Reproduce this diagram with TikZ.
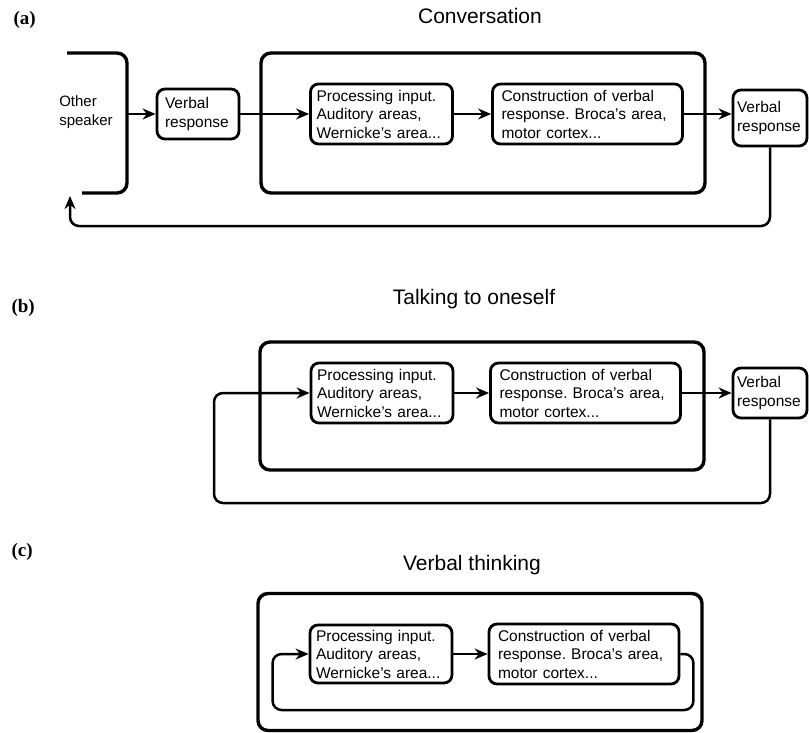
\documentclass[tikz,border=0pt]{standalone}
\usepackage{fontspec}
\setmainfont{Liberation Sans}
\newfontfamily\partfont{Liberation Serif}
\usetikzlibrary{arrows.meta}
\frenchspacing

\begin{document}
\begin{tikzpicture}[x=1pt,y=-1pt,
    bigbox/.style={draw,line width=3.4pt,rounded corners=10pt,inner sep=0pt},
    smallbox/.style={draw,line width=2.8pt,rounded corners=8pt,align=left,
        font=\fontsize{15.5}{18.5}\selectfont,inner ysep=0pt},
    procbox/.style={smallbox,text width=130pt,inner xsep=6pt,minimum height=60pt},
    consbox/.style={smallbox,text width=172pt,inner xsep=9pt,minimum height=60pt},
    vrbox/.style={smallbox,text width=66pt,inner xsep=4pt,minimum height=52pt},
    link/.style={line width=2.5pt,-{Stealth[length=13pt,width=11pt]}},
    loopline/.style={line width=2.5pt,rounded corners=9pt},
    title/.style={font=\fontsize{21}{24}\selectfont,anchor=base},
    partlabel/.style={font=\partfont\bfseries\fontsize{19}{22}\selectfont,anchor=base west}]

    \useasboundingbox (0,0) rectangle (809,733);

    % (a) conversation
    \node[partlabel] (la) at (10,25) {(a)};
    \node[title] (ta) at (480,24) {Conversation};
    \draw[line width=3.4pt,rounded corners=10pt] (67,53) -- (127,53) -- (127,193) -- (82,193);
    \node[align=left,font=\fontsize{15}{18.5}\selectfont] (spkr) at (86,112) {Other\\speaker};
    \node[bigbox,minimum width=444pt,minimum height=140pt] (conv) at (483,123) {};
    \node[vrbox,text width=66pt,inner xsep=8pt,minimum height=50pt] (vra) at (198,114) {Verbal\\response};
    \node[procbox] (proca) at (381.5,114) {Processing input.\\Auditory areas,\\Wernicke's area...};
    \node[consbox] (consa) at (587.5,114) {Construction of verbal\\response. Broca's area,\\motor cortex...};
    \node[vrbox,minimum height=56pt] (vrb) at (770,118) {Verbal\\response};
    \coordinate (spk) at (127,114);
    \coordinate (lowa) at (70,226);
    \coordinate (backa) at (70,196);
    \draw[link] (spk) -- (vra.west);
    \draw[link] (vra.east) -- (proca.west);
    \draw[link] (proca.east) -- (consa.west);
    \draw[link] (consa.east) -- (vrb.west |- consa.east);
    \draw[loopline,link] (vrb.south) |- (lowa) -- (backa);

    % (b) talking to oneself
    \node[partlabel] (lb) at (8,312) {(b)};
    \node[title] (tb) at (474,304) {Talking to oneself};
    \node[bigbox,minimum width=444pt,minimum height=128pt] (talk) at (482,406) {};
    \node[procbox] (procb) at (382,393) {Processing input.\\Auditory areas,\\Wernicke's area...};
    \node[consbox] (consb) at (585.5,393) {Construction of verbal\\response. Broca's area,\\motor cortex...};
    \node[vrbox,minimum height=50pt] (vrc) at (770,393) {Verbal\\response};
    \coordinate (lowb) at (214,503);
    \draw[link] (procb.east) -- (consb.west);
    \draw[link] (consb.east) -- (vrc.west);
    \draw[loopline,link] (vrc.south) |- (lowb) |- (procb.west);

    % (c) verbal thinking
    \node[partlabel] (lc) at (8,556) {(c)};
    \node[title] (tc) at (472,570) {Verbal thinking};
    \node[bigbox,minimum width=444pt,minimum height=137pt] (think) at (480,662) {};
    \node[procbox,minimum height=58pt] (procc) at (381,654) {Processing input.\\Auditory areas,\\Wernicke's area...};
    \node[consbox] (consc) at (584,654) {Construction of verbal\\response. Broca's area,\\motor cortex...};
    \draw[link] (procc.east) -- (consc.west);
    \draw[loopline,link] (consc.east) -| ++(13,56) -| ([xshift=-36pt]procc.west) -- (procc.west);
\end{tikzpicture}
\end{document}
